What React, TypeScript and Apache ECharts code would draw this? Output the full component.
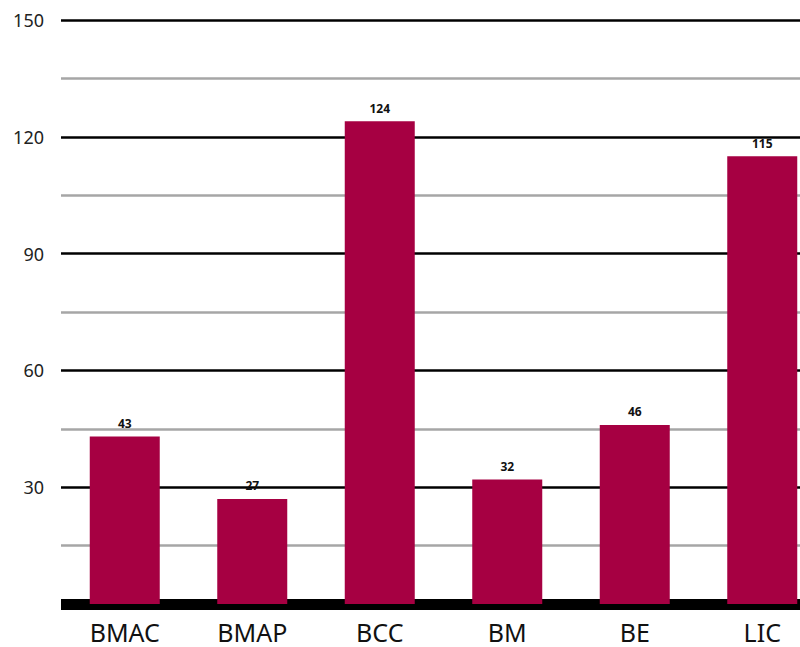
import React, { useEffect, useRef } from "react";
import * as echarts from "echarts";

const categories = ["BMAC", "BMAP", "BCC", "BM", "BE", "LIC"];
const values = [43, 27, 124, 32, 46, 115];
const yTicks = [0, 30, 60, 90, 120, 150];

const FONT = "'Noto Sans', Lato, sans-serif";

export default function App() {
  const ref = useRef<HTMLDivElement>(null);
  useEffect(() => {
    if (!ref.current) return;
    const chart = echarts.init(ref.current, null, { renderer: "svg" });
    chart.setOption({
      animation: false,
      backgroundColor: "#ffffff",
      grid: { left: 61, right: 4, top: 20, bottom: 43, containLabel: false },
      xAxis: {
        type: "category",
        data: categories,
        offset: 3,
        axisLine: { show: true, lineStyle: { color: "#000", width: 11, cap: "butt" } },
        axisTick: { show: false },
        axisLabel: {
          margin: 12,
          fontSize: 25,
          color: "#111",
          fontFamily: FONT,
        },
      },
      yAxis: {
        type: "value",
        min: yTicks[0],
        max: yTicks[yTicks.length - 1],
        interval: 30,
        axisLine: { show: false },
        axisTick: { show: false },
        axisLabel: {
          margin: 17,
          fontSize: 18,
          color: "#222",
          fontFamily: FONT,
          formatter: (v: number) => (v === 0 ? "" : String(v)),
        },
        splitLine: { show: true, lineStyle: { color: "#000", width: 2.5 } },
        minorTick: { show: false, splitNumber: 2 },
        minorSplitLine: { show: true, lineStyle: { color: "#a6a6a6", width: 2.5 } },
      },
      series: [
        {
          type: "bar",
          data: values,
          barWidth: 70,
          itemStyle: { color: "#a60042" },
          label: {
            show: true,
            position: "top",
            distance: 7,
            fontSize: 12,
            fontWeight: "bold",
            color: "#111",
            fontFamily: FONT,
          },
        },
      ],
    });
    return () => chart.dispose();
  }, []);
  return (
    <div style={{ width: 800, height: 647, position: "absolute", left: 0, top: 0, overflow: "hidden" }}>
      <div ref={ref} style={{ width: 830, height: 647 }} />
    </div>
  );
}
